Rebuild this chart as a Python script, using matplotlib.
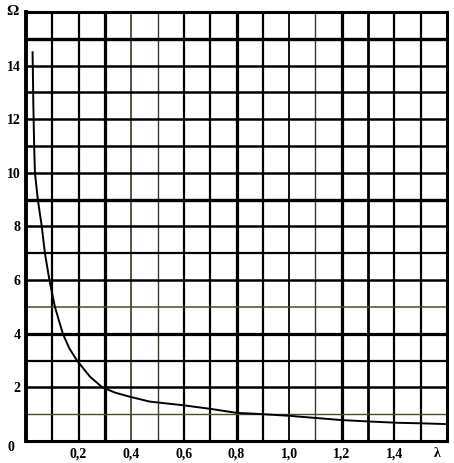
import numpy as np
import matplotlib
matplotlib.use('Agg')
import matplotlib.pyplot as plt

plt.rcParams['font.family'] = ['Liberation Serif', 'DejaVu Serif']
plt.rcParams['font.size'] = 10
plt.rcParams['font.weight'] = 'bold'

# curve
lam = [0.025, 0.028, 0.031, 0.034, 0.045, 0.06, 0.072, 0.089, 0.11,
       0.14, 0.165, 0.194, 0.243, 0.29, 0.34, 0.395, 0.47, 0.6, 0.7,
       0.8, 0.9, 1.0, 1.1, 1.2, 1.3, 1.41, 1.5, 1.6]
omega = [14.5, 12.5, 11.0, 10.0, 9.0, 8.0, 7.0, 6.0, 5.0,
         4.0, 3.45, 3.0, 2.4, 2.0, 1.8, 1.65, 1.47, 1.33, 1.2,
         1.05, 1.0, 0.94, 0.86, 0.78, 0.73, 0.68, 0.66, 0.63]

x_ticks = [0.2, 0.4, 0.6, 0.8, 1.0, 1.2, 1.4]
x_labels = ['0,2', '0,4', '0,6', '0,8', '1,0', '1,2', '1,4']
y_ticks = [2, 4, 6, 8, 10, 12, 14]
y_labels = ['2', '4', '6', '8', '10', '12', '14']

# grid lines of the scanned paper, thickness varies
vlines = [0.1, 0.2, 0.3, 0.4, 0.5, 0.6, 0.7, 0.8, 0.9, 1.0, 1.1, 1.2, 1.3, 1.4, 1.5]
vwidth = [1.6, 1.6, 2.3, 1.2, 1.0, 1.6, 1.6, 2.3, 1.6, 1.3, 1.0, 2.3, 2.0, 1.6, 1.6]
hlines = list(range(1, 16))
hwidth = [1.0, 1.8, 1.6, 2.3, 1.1, 1.8, 1.6, 1.8, 2.4, 1.8, 1.8, 1.8, 1.8, 1.8, 2.4]

fig = plt.figure(figsize=(4.54, 4.63), dpi=100)
ax = fig.add_axes([26/454, 22/463, 421/454, 429/463])

for v, w in zip(vlines, vwidth):
    c = '#3a3a28' if w < 1.3 else 'black'
    ax.axvline(v, color=c, lw=w, zorder=1)
for h, w in zip(hlines, hwidth):
    c = '#4a4a30' if w < 1.3 else 'black'
    ax.axhline(h, color=c, lw=w, zorder=1)

ax.plot(lam, omega, color='black', lw=1.4, zorder=3)

ax.set_xlim(0, 1.6)
ax.set_ylim(0, 16)
for s in ax.spines.values():
    s.set_linewidth(2.2)
ax.spines['left'].set_linewidth(2.8)

ax.set_xticks(x_ticks)
ax.set_xticklabels(x_labels)
ax.set_yticks(y_ticks)
ax.set_yticklabels(y_labels)
ax.tick_params(length=0, pad=5)
ax.tick_params(axis='y', pad=4)

ax.text(-0.035, 0.0, '0', transform=ax.transAxes, ha='center', va='top')
ax.text(-0.033, 1.0, 'Ω', transform=ax.transAxes, ha='center', va='center',
        fontsize=11)
ax.text(0.978, -0.015, 'λ', transform=ax.transAxes, ha='center', va='top')

fig.savefig('out.png', dpi=100)
